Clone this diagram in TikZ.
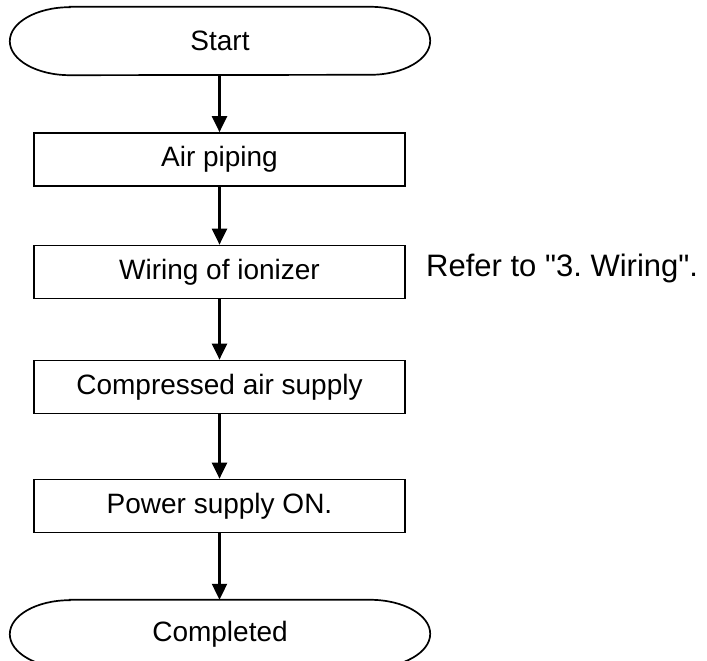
\documentclass[tikz,border=0pt]{standalone}
\usepackage{fontspec}
\setmainfont{Liberation Sans}[Ligatures=TeXOff]
\usetikzlibrary{arrows.meta,calc}
\frenchspacing
\begin{document}
\begin{tikzpicture}[x=1pt,y=1pt,
  stepbox/.style={draw, line width=1.7pt, minimum width=371pt, minimum height=53pt, inner sep=0pt, font=\fontsize{28}{33}\selectfont},
  term/.style={minimum width=420pt, minimum height=68pt, inner sep=0pt, font=\fontsize{28}{33}\selectfont},
  outline/.style={line width=1.7pt},
  flow/.style={line width=2.2pt, -{Triangle[width=15pt,length=16pt]}}]
\useasboundingbox (0,0) rectangle (707,661);
\node[term] (s) at (220,620) {Start};
\node[stepbox] (a) at (219.5,501.5) {Air piping};
\node[stepbox] (w) at (219.5,389) {Wiring of ionizer};
\node[stepbox] (c) at (219.5,274) {Compressed air supply};
\node[stepbox] (p) at (219.5,155) {Power supply ON.};
\node[term] (e) at (220,27) {Completed};
\node[anchor=base west, inner sep=0pt, font=\fontsize{31}{37}\selectfont] (r) at (426,384) {Refer to "3. Wiring".};
\foreach \n in {s,e}{
  \draw[outline] ($(\n.north west)+(60,0)$) -- ($(\n.north east)+(-60,0)$)
    arc[start angle=90,end angle=-90,x radius=60pt,y radius=34pt]
    -- ($(\n.south west)+(60,0)$)
    arc[start angle=270,end angle=90,x radius=60pt,y radius=34pt] -- cycle;
}
\draw[flow] (s.south -| a.north) -- (a.north);
\draw[flow] (a.south) -- (w.north);
\draw[flow] (w.south) -- (c.north);
\draw[flow] (c.south) -- (p.north);
\draw[flow] (p.south) -- (p.south |- e.north);
\end{tikzpicture}
\end{document}
